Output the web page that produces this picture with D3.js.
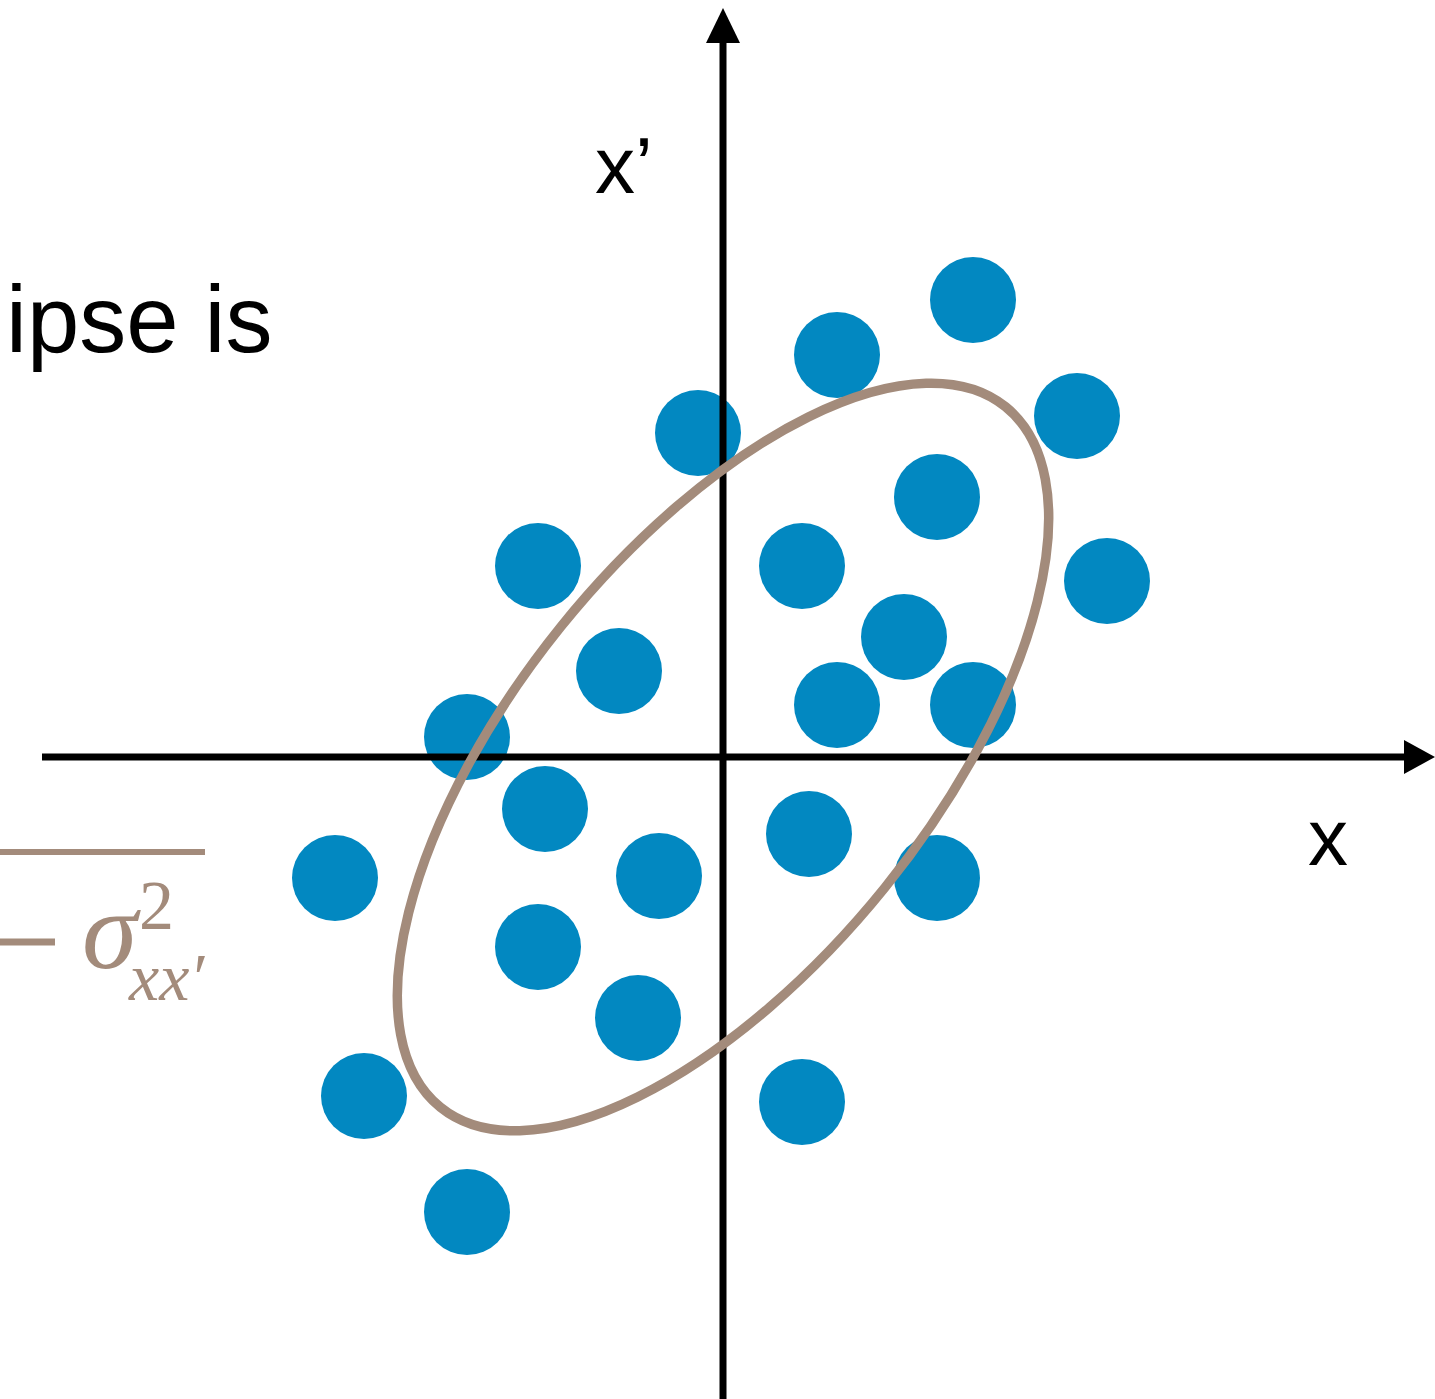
<!DOCTYPE html>
<html>
<head>
<meta charset="utf-8">
<script src="https://cdn.jsdelivr.net/npm/d3@7"></script>
<style>
  body { margin: 0; background: #fff; overflow: hidden; }
</style>
</head>
<body>
<div id="chart"></div>
<script>
// canvas size
var w = 1435,
    h = 1399;

// scatter points (x, x') in axis units, origin where the axes cross
var xs = [2.50, 1.14, -0.25, 3.54, 2.14, -1.85, 0.79, 3.84, 1.81, -1.04, 1.14, 2.50,
          -2.56, -1.78, 0.86, -0.64, -3.88, 2.14, -1.85, -0.85, -3.59, 0.79, -2.56];
var ys = [4.57, 4.02, 3.24, 3.41, 2.60, 1.91, 1.91, 1.76, 1.20, 0.86, 0.52, 0.52,
          0.20, -0.52, -0.77, -1.19, -1.21, -1.21, -1.90, -2.61, -3.39, -3.45, -4.55];

// covariance ellipse: semi axes and tilt (degrees)
var ellipseAxes = [4.50, 2.08];
var ellipseTilt = 51.1;

// axis extents
var xExtent = [-6.81, 7.12];
var yExtent = [-6.45, 7.49];

var axisLabels = ["x", "x\u2019"];

var blue = "#0288c1",
    brown = "#a38b7b";

var x = d3.scaleLinear().domain([-4, 4]).range([323, 1123]);
var y = d3.scaleLinear().domain([-4, 4]).range([1157, 357]);

var svg = d3.select("#chart")
  .append("svg")
    .attr("width", w)
    .attr("height", h);

// cropped left-hand text fragments
svg.append("text")
    .attr("x", 6)
    .attr("y", 352)
    .style("font-family", "'Liberation Sans', Arial, sans-serif")
    .style("font-size", "94px")
    .style("fill", "#000")
    .text("ipse is");

svg.append("line")
    .attr("x1", 0).attr("x2", 205)
    .attr("y1", 852).attr("y2", 852)
    .style("stroke", brown)
    .style("stroke-width", 6);

svg.append("line")
    .attr("x1", 0).attr("x2", 55)
    .attr("y1", 942).attr("y2", 942)
    .style("stroke", brown)
    .style("stroke-width", 7);

var serif = "'Liberation Serif', 'Times New Roman', serif";
svg.append("text")
    .attr("x", 82).attr("y", 968)
    .style("font-family", serif)
    .style("font-style", "italic")
    .style("font-size", "112px")
    .style("fill", brown)
    .text("\u03c3");
svg.append("text")
    .attr("x", 139).attr("y", 929)
    .style("font-family", serif)
    .style("font-size", "70px")
    .style("fill", brown)
    .text("2");
svg.append("text")
    .attr("x", 129).attr("y", 1000)
    .style("font-family", serif)
    .style("font-style", "italic")
    .style("font-size", "68px")
    .style("fill", brown)
    .text("xx\u2032");

// points
svg.append("g")
  .selectAll("circle")
  .data(d3.range(xs.length))
  .enter()
  .append("circle")
    .attr("cx", function(i) { return x(xs[i]); })
    .attr("cy", function(i) { return y(ys[i]); })
    .attr("r", 43)
    .style("fill", blue);

// axes with arrow heads
var axes = svg.append("g");
axes.append("line")
    .attr("x1", x(xExtent[0])).attr("x2", x(xExtent[1]) - 20)
    .attr("y1", y(0)).attr("y2", y(0))
    .style("stroke", "#000").style("stroke-width", 7);
axes.append("line")
    .attr("x1", x(0)).attr("x2", x(0))
    .attr("y1", y(yExtent[0])).attr("y2", y(yExtent[1]) + 20)
    .style("stroke", "#000").style("stroke-width", 7);

var tipX = x(xExtent[1]), tipY = y(yExtent[1]);
axes.append("path")
    .attr("d", "M" + tipX + "," + y(0) + "L" + (tipX - 31) + "," + (y(0) - 17) + "L" + (tipX - 31) + "," + (y(0) + 17) + "Z")
    .style("fill", "#000");
axes.append("path")
    .attr("d", "M" + x(0) + "," + tipY + "L" + (x(0) - 17) + "," + (tipY + 35) + "L" + (x(0) + 17) + "," + (tipY + 35) + "Z")
    .style("fill", "#000");

// ellipse on top
svg.append("ellipse")
    .attr("cx", x(0))
    .attr("cy", y(0))
    .attr("rx", x(ellipseAxes[0]) - x(0))
    .attr("ry", x(ellipseAxes[1]) - x(0))
    .attr("transform", "rotate(" + (-ellipseTilt) + "," + x(0) + "," + y(0) + ")")
    .style("fill", "none")
    .style("stroke", brown)
    .style("stroke-width", 9.5);

// axis labels
svg.append("text")
    .attr("x", 1308).attr("y", 865)
    .style("font-family", "'Liberation Sans', Arial, sans-serif")
    .style("font-size", "80px")
    .text(axisLabels[0]);
svg.append("text")
    .attr("x", 595).attr("y", 193)
    .style("font-family", "'Liberation Sans', Arial, sans-serif")
    .style("font-size", "80px")
    .text(axisLabels[1]);
</script>
</body>
</html>
